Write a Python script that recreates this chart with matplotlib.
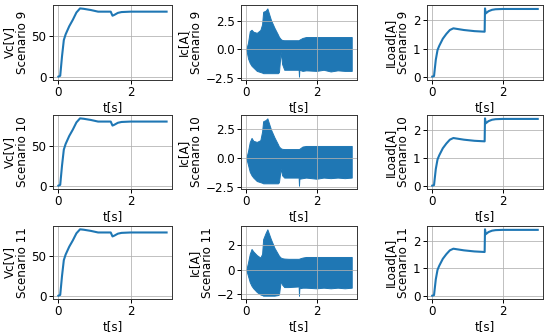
import matplotlib
matplotlib.use("Agg")
import matplotlib.pyplot as plt
import numpy as np

scenarios = ["9", "10", "11"]

# Vc [V] vs t (same shape for all scenarios)
t_vc = [0.0, 0.05, 0.1, 0.15, 0.2, 0.3, 0.4, 0.5, 0.6, 0.7, 0.9, 1.1, 1.45, 1.5, 1.55, 1.65, 1.75, 2.0, 3.0]
vc = [0.0, 1.0, 25.0, 45.0, 52.0, 62.0, 70.0, 79.0, 84.0, 83.5, 82.0, 80.0, 80.0, 75.0, 76.0, 78.5, 79.5, 80.0, 80.0]

# ILoad [A] vs t
t_il = [0.0, 0.05, 0.1, 0.15, 0.2, 0.3, 0.4, 0.5, 0.6, 0.7, 0.9, 1.2, 1.49, 1.5, 1.52, 1.6, 1.7, 1.8, 2.0, 3.0]
il = [0.0, 0.02, 0.6, 0.95, 1.1, 1.35, 1.52, 1.66, 1.72, 1.7, 1.66, 1.62, 1.6, 2.43, 2.25, 2.33, 2.38, 2.4, 2.41, 2.41]

# Ic [A] envelopes (upper / lower) of the fast oscillation
t_ic = [0.0, 0.05, 0.1, 0.15, 0.2, 0.3, 0.4, 0.45, 0.48, 0.55, 0.6, 0.7, 0.8, 0.9, 0.93, 0.98, 1.02, 1.08,
        1.2, 1.49, 1.5, 1.51, 1.6, 1.7, 2.0, 2.2, 2.4, 2.6, 2.8, 3.0]
ic_up = {
    "9":  [0.0, 0.6, 1.6, 1.72, 1.55, 1.45, 1.7, 2.2, 3.3, 3.4, 3.6, 2.6, 1.9, 1.3, 1.1, 0.9, 0.82, 0.8,
           0.8, 0.8, 0.8, 0.85, 1.0, 1.08, 1.08, 1.08, 1.08, 1.08, 1.08, 1.08],
    "10": [0.0, 0.6, 1.4, 1.75, 1.5, 1.4, 1.55, 2.3, 3.2, 3.3, 3.45, 2.5, 1.8, 1.2, 1.0, 0.85, 0.8, 0.78,
           0.78, 0.78, 0.78, 0.8, 1.0, 1.05, 1.05, 1.05, 1.05, 1.05, 1.05, 1.05],
    "11": [0.0, 0.6, 1.3, 1.7, 1.5, 1.2, 1.0, 1.3, 2.5, 3.0, 3.3, 2.5, 1.8, 1.3, 1.15, 1.0, 0.95, 0.92,
           0.9, 0.9, 0.9, 0.92, 1.0, 1.05, 1.05, 1.05, 1.05, 1.05, 1.05, 1.05],
}
ic_lo = {
    "9":  [0.0, -0.8, -1.2, -1.45, -1.6, -1.9, -2.0, -2.05, -2.1, -2.1, -2.1, -2.1, -2.1, -2.1, -2.0, -0.2, -1.3, -1.8,
           -1.8, -1.8, -2.4, -1.8, -1.9, -1.85, -1.9, -1.8, -1.95, -1.85, -1.9, -1.9],
    "10": [0.0, -0.6, -1.2, -1.5, -1.7, -2.0, -2.1, -2.15, -2.2, -2.2, -2.2, -2.2, -2.2, -2.2, -2.1, -0.9, -1.5, -1.7,
           -1.7, -1.7, -2.4, -1.8, -1.75, -1.7, -1.8, -1.7, -1.75, -1.7, -1.75, -1.7],
    "11": [0.0, -0.5, -1.0, -1.3, -1.5, -1.8, -2.0, -2.05, -2.1, -2.1, -2.1, -2.1, -2.1, -2.05, -2.0, -0.9, -1.2, -1.4,
           -1.4, -1.35, -2.1, -1.5, -1.45, -1.45, -1.5, -1.45, -1.5, -1.45, -1.5, -1.45],
}
ic_ticks = {"9": [-2.5, 0.0, 2.5], "10": [-2.5, 0.0, 2.5], "11": [-2, 0, 2]}
x_ticks = [0, 2]

W, H = 550, 336
fig = plt.figure(figsize=(W / 100, H / 100), dpi=100)

col_left = [53, 241, 427]
col_w = [119, 116, 116]
row_top = [5, 115, 226]
row_h = [75, 74, 73]

color = "#1f77b4"
FS = 8.6

def setup(ax):
    ax.grid(True, color="#b0b0b0", linewidth=0.7, alpha=0.8)
    ax.set_xticks(x_ticks)
    ax.set_xlabel("t[s]", fontsize=FS, labelpad=1.5)
    ax.tick_params(labelsize=FS, length=2.8, width=0.7, pad=1.8)
    for s in ax.spines.values():
        s.set_color("#333333")
        s.set_linewidth(0.7)

for r, sc in enumerate(scenarios):
    axes = []
    for c in range(3):
        ax = fig.add_axes([col_left[c] / W, 1 - (row_top[r] + row_h[r]) / H, col_w[c] / W, row_h[r] / H])
        axes.append(ax)
    ax = axes[0]
    ax.plot(t_vc, vc, color=color, linewidth=1.5)
    ax.set_yticks([0, 50])
    ax.set_ylabel("Vc[V]\nScenario " + sc, fontsize=FS, labelpad=2, linespacing=1.0)
    setup(ax)

    ax = axes[1]
    ax.fill_between(t_ic, ic_lo[sc], ic_up[sc], color=color, linewidth=0.7, edgecolor=color)
    ax.set_yticks(ic_ticks[sc])
    ax.set_ylabel("Ic[A]\nScenario " + sc, fontsize=FS, labelpad=2, linespacing=1.0)
    setup(ax)

    ax = axes[2]
    ax.plot(t_il, il, color=color, linewidth=1.5)
    ax.set_yticks([0, 1, 2])
    ax.set_ylabel("ILoad[A]\nScenario " + sc, fontsize=FS, labelpad=2, linespacing=1.0)
    setup(ax)

fig.savefig("out.png", dpi=100)
